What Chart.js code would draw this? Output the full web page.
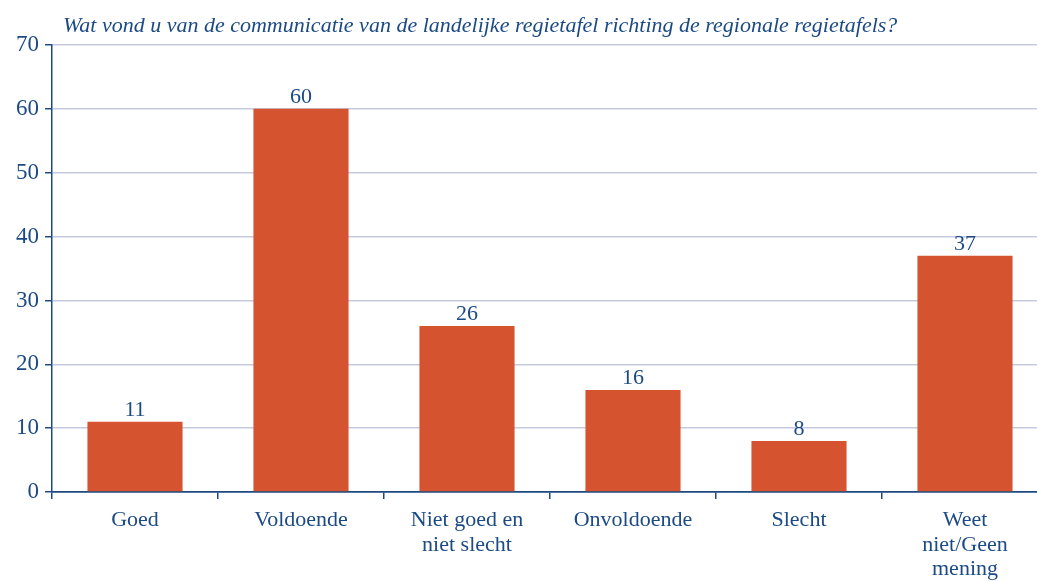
<!DOCTYPE html>
<html><head><meta charset="utf-8">
<script src="https://cdn.jsdelivr.net/npm/chart.js@4"></script>
<style>
html,body{margin:0;padding:0;overflow:hidden;background:#fff;}
#wrap{position:relative;width:1048px;height:581px;}
</style></head>
<body><div id="wrap"><canvas id="c"></canvas></div>
<script>
const categories = ["Goed","Voldoende",["Niet goed en","niet slecht"],"Onvoldoende","Slecht",["Weet","niet/Geen","mening"]];
const values = [11,60,26,16,8,37];
const yTicks = [0,10,20,30,40,50,60,70];
const titleText = "Wat vond u van de communicatie van de landelijke regietafel richting de regionale regietafels?";

const textColor = "#1b4a85";
const axisColor = "#1f4a80";
const gridColor = "#c6cadf";
const barColor = "#d6532f";
const fontFam = "'Liberation Serif', serif";

const overlay = {
  id:'overlay',
  afterDatasetsDraw(chart){
    const ctx = chart.ctx;
    const meta = chart.getDatasetMeta(0);
    ctx.save();
    ctx.fillStyle = textColor;
    ctx.font = "22px " + fontFam;
    ctx.textAlign = 'center';
    ctx.textBaseline = 'alphabetic';
    meta.data.forEach((el,i)=>{
      ctx.fillText(String(values[i]), el.x, el.y - 6);
    });
    ctx.font = "italic 22px " + fontFam;
    ctx.textAlign = 'left';
    ctx.fillText(titleText, chart.chartArea.left + 11, 32);
    ctx.restore();
  }
};

new Chart(document.getElementById('c'), {
  type:'bar',
  data:{labels:categories, datasets:[{data:values, backgroundColor:barColor, borderWidth:0, barPercentage:0.573, categoryPercentage:1}]},
  options:{
    responsive:true, maintainAspectRatio:false, animation:false,
    layout:{padding:{top:45, left:10, right:0, bottom:-10}},
    plugins:{legend:{display:false}, tooltip:{enabled:false}},
    scales:{
      x:{
        offset:true,
        grid:{offset:true, drawOnChartArea:false, color:axisColor, tickLength:7, tickColor:axisColor, lineWidth:1.5},
        border:{color:axisColor, width:1.5},
        ticks:{color:textColor, font:{family:fontFam, size:22, lineHeight:1.12}, padding:9, maxRotation:0, autoSkip:false}
      },
      y:{
        min:0, max:70,
        afterBuildTicks(ax){ ax.ticks = yTicks.map(v=>({value:v})); },
        grid:{color:(c)=> c.tick && c.tick.value===0 ? axisColor : gridColor, lineWidth:1.5, tickLength:7, tickColor:axisColor, drawTicks:true},
        border:{color:axisColor, width:1.5},
        ticks:{color:textColor, font:{family:fontFam, size:23}, padding:6}
      }
    }
  },
  plugins:[overlay]
});
</script></body></html>
